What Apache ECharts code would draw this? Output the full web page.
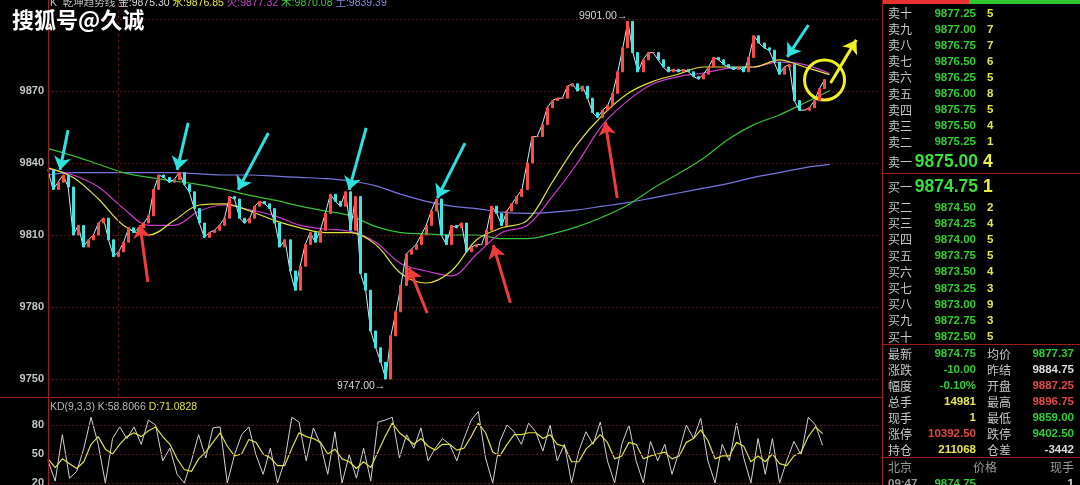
<!DOCTYPE html>
<html><head><meta charset="utf-8">
<script src="https://cdn.jsdelivr.net/npm/echarts@6/dist/echarts.min.js"></script>
<style>html,body{margin:0;padding:0;background:#000;}#c{width:1080px;height:485px;}</style>
</head><body><div id="c"></div>
<script>
// ---------- data ----------
const closes = [
9837,9829,9832,9835,9830,9810,9814,9805,9808,9810,
9815,9817,9808,9801,9803,9807,9813,9811,9813,9815,
9818,9829,9835,9834,9832,9833,9836,9831,9828,9821,
9815,9809,9811,9812,9814,9817,9826,9825,9817,9815,
9817,9822,9824,9823,9821,9815,9805,9808,9795,9787,
9797,9806,9811,9807,9812,9819,9827,9824,9822,9828,
9812,9826,9794,9787,9770,9763,9757,9750,9768,9778,
9789,9802,9804,9806,9810,9814,9820,9825,9810,9806,
9814,9813,9815,9803,9805,9806,9806,9812,9822,9819,
9814,9820,9823,9826,9829,9840,9851,9851,9856,9863,
9866,9867,9867,9872,9873,9870,9872,9867,9861,9859,
9862,9864,9869,9878,9888,9899,9886,9878,9883,9886,
9886,9883,9880,9878,9879,9878,9879,9878,9876,9875,
9877,9880,9884,9883,9881,9880,9879,9880,9878,9884,
9893,9890,9888,9887,9882,9877,9880,9881,9866,9862,
9862,9863,9866,9871,9874.75];
// moving-average style lines (sampled every 5 bars)
const maWater = [9838,9834,9825,9814,9810,9816,9822.5,9823,9820,9816,9813,9811,9811,9806,9794,9790,9795,9808,9813,9816,9832,9848,9860,9869,9874,9877,9880,9880,9880,9883,9880,9876.85];
const maFire  = [9837.5,9835,9830,9821,9814,9814,9820,9822.5,9820.5,9818,9814,9812.5,9811.5,9807,9798,9795,9793,9802,9811,9814,9826,9840,9856,9866,9873,9876,9877.5,9879.5,9880,9882,9881,9877.32];
const maWood  = [9846,9843,9839.5,9836,9834,9832.5,9831,9829,9826.5,9824.5,9822,9820,9818,9813.5,9811,9810.5,9810,9810,9808.5,9808.5,9810.5,9813.5,9817.5,9822.5,9829.5,9835.5,9842,9850,9856,9860,9865,9870.08];
const maEarth = [9835,9836,9836,9836,9836,9836,9835.5,9835,9835,9834.5,9834,9833.5,9832.5,9830.5,9827,9824,9822,9821,9819.5,9819,9819.5,9820.5,9822,9823.5,9825.5,9827.5,9829.5,9831.5,9834,9836,9838,9839.39];
const goldValue = 9875.30;
const kdK = [43,22,70,25,32,56,88,60,20,66, 78,66,78,60,85,80,43,56,29,20, 43,70,46,77,78,20,49,70,78,49,
 29,56,20,43,88,83,43,77,60,29, 73,20,49,25,56,22,83,85,88,46, 70,56,77,43,56,66,60,43,66,85,
 94,46,20,63,80,73,60,82,73,53, 80,43,60,20,53,73,60,83,43,20, 60,80,43,20,63,43,60,29,53,80,
 66,87,43,20,60,43,82,46,20,66, 29,66,20,43,63,49,88,80,58.8066];
const kdD = [45,36,45,40,35,42,60,68,55,50, 60,68,72,68,74,78,68,60,45,34, 32,45,52,62,72,58,48,50,65,62,
 50,46,38,38,56,72,68,66,62,50, 55,45,42,35,42,36,52,68,82,72, 66,60,66,58,54,60,60,54,56,68,
 82,72,52,48,60,70,70,72,72,66, 70,60,58,42,42,55,62,70,62,45, 48,62,60,45,48,50,52,45,48,62,
 66,75,64,45,48,48,62,58,42,48, 42,50,40,38,48,52,68,78,71.0828];
const kdLevels = [20,50,80];
const dayHigh = [115, 9901.00];
const dayLow = [67, 9747.00];
const separatorBar = 14;
// annotation arrows [barFrom, priceFrom, barTo, priceTo]
const cyanArrows = [[3.97,9853.7,2.38,9837.1],[27.8,9856.7,25.6,9837.1],[43.7,9852.5,37.7,9828.8],[63.1,9854.6,59.7,9828.8],[82.7,9848.3,77.2,9825.4],[150.8,9897.5,146.6,9884.2]];
const redArrows = [[19.8,9790.4,18.25,9814.2],[75.2,9777.5,71.6,9796.3],[91.7,9781.7,88.3,9805.8],[112.9,9825.4,110.5,9857.1]];
const yellowArrows = [[155.2,9873.3,160.3,9891.3]];
const yellowCircle = [154, 9874.6];
// order book
const askLabels = ['卖十','卖九','卖八','卖七','卖六','卖五','卖四','卖三','卖二'];
const askPrices = ['9877.25','9877.00','9876.75','9876.50','9876.25','9876.00','9875.75','9875.50','9875.25'];
const askQty = [5,7,7,6,5,8,5,4,1];
const bestAsk = ['卖一','9875.00','4'];
const bestBid = ['买一','9874.75','1'];
const bidLabels = ['买二','买三','买四','买五','买六','买七','买八','买九','买十'];
const bidPrices = ['9874.50','9874.25','9874.00','9873.75','9873.50','9873.25','9873.00','9872.75','9872.50'];
const bidQty = [2,4,5,5,4,3,9,3,5];
const statLabelsL = ['最新','涨跌','幅度','总手','现手','涨停','持仓'];
const statValuesL = ['9874.75','-10.00','-0.10%','14981','1','10392.50','211068'];
const statLabelsR = ['均价','昨结','开盘','最高','最低','跌停','仓差'];
const statValuesR = ['9877.37','9884.75','9887.25','9896.75','9859.00','9402.50','-3442'];
const tickHeader = ['北京','价格','现手'];
const tickRow = ['09:47','9874.75','1'];

// ---------- chart ----------
const mainSlots = 166, maSlots = 34, kdSlots = 117;
const cats = n => Array.from({length:n}, (_, i) => String(i));
const candles = closes.map((c, i) => { const o = i ? closes[i-1] : c; return [o, c, Math.min(o, c), Math.max(o, c)]; });

const NUM = '"Liberation Sans", Arial, sans-serif';
const MIX = '"Liberation Sans", "Noto Sans CJK SC", sans-serif';
const CJK = '"Noto Sans CJK SC", sans-serif';
const GRID = '#5c1212';
const BORDER = '#a01c1c';
const C = {g:'#2fcf2f', y:'#e6e64a', r:'#e04a4a', w:'#dcdcdc', lab:'#c8c8c8'};

function txt(x, y, text, fill, font, align) {
  return {type:'text', x, y, silent:true, z:100,
    style:{text, fill, font, align: align || 'left', textAlign: align || 'left', verticalAlign:'middle', textVerticalAlign:'middle'}};
}
function hline(x1, x2, y, color, w) {
  return {type:'line', silent:true, z:90, shape:{x1, y1:y, x2, y2:y}, style:{stroke:color, lineWidth:w || 1}};
}
function vline(x, y1, y2, color, w) {
  return {type:'line', silent:true, z:90, shape:{x1:x, y1, x2:x, y2}, style:{stroke:color, lineWidth:w || 1}};
}
const last = a => a[a.length - 1];

const g = [];
// borders
g.push(vline(48.5, 0, 485, BORDER));
g.push(hline(0, 883, 397.5, BORDER));
g.push(vline(882.5, 0, 485, BORDER));
// header (rich text)
const hf = '10.5px ' + MIX;
g.push({type:'text', x:50, y:3, silent:true, z:100, style:{
  text:'{k|K}  {t|乾坤趋势线} {a|金:' + goldValue.toFixed(2) + '} {b|水:' + last(maWater).toFixed(2) + '} {c|火:' + last(maFire).toFixed(2) +
       '} {d|木:' + last(maWood).toFixed(2) + '} {e|土:' + last(maEarth).toFixed(2) + '}',
  font: hf, fill:'#c0c0c0', verticalAlign:'middle', textVerticalAlign:'middle',
  rich:{k:{fill:'#c0c0c0', font:hf}, t:{fill:'#bdbdbd', font:hf}, a:{fill:'#dcdcdc', font:hf}, b:{fill:'#e6e63a', font:hf},
        c:{fill:'#d040d0', font:hf}, d:{fill:'#3cc83c', font:hf}, e:{fill:'#8a8ae6', font:hf}}}});
// watermark
g.push({type:'text', x:12, y:20, silent:true, z:110, style:{text:'搜狐号@久诚', fill:'#ffffff', font:'bold 22px ' + CJK, verticalAlign:'middle', textVerticalAlign:'middle', shadowColor:'rgba(0,0,0,0.9)', shadowBlur:3}});
// KD label
const kf = '10.5px ' + NUM;
g.push({type:'text', x:50, y:407, silent:true, z:100, style:{
  text:'{a|KD(9,3,3) K:' + last(kdK).toFixed(4) + '} {b|D:' + last(kdD).toFixed(4) + '}', font:kf, verticalAlign:'middle', textVerticalAlign:'middle',
  rich:{a:{fill:'#b8b8b8', font:kf}, b:{fill:'#e0e040', font:kf}}}});
// order book
g.push({type:'rect', silent:true, z:90, shape:{x:883, y:0, width:86, height:4}, style:{fill:'#e83030'}});
g.push({type:'rect', silent:true, z:90, shape:{x:969, y:0, width:111, height:4}, style:{fill:'#2ec82e'}});
const labFont = '12px ' + CJK, numFont = 'bold 11.5px ' + NUM;
askLabels.forEach((l, i) => {
  const y = 13.5 + i * 16.1;
  g.push(txt(888, y, l, C.lab, labFont));
  g.push(txt(976, y, askPrices[i], C.g, numFont, 'right'));
  g.push(txt(987, y, String(askQty[i]), C.y, numFont));
});
g.push(txt(888, 162, bestAsk[0], C.lab, labFont));
g.push(txt(978, 162, bestAsk[1], '#39e039', 'bold 17.5px ' + NUM, 'right'));
g.push(txt(983, 162, bestAsk[2], '#f0f040', 'bold 17.5px ' + NUM));
g.push(hline(883, 1080, 173.5, BORDER));
g.push(txt(888, 187, bestBid[0], C.lab, labFont));
g.push(txt(978, 187, bestBid[1], '#39e039', 'bold 17.5px ' + NUM, 'right'));
g.push(txt(983, 187, bestBid[2], '#f0f040', 'bold 17.5px ' + NUM));
bidLabels.forEach((l, i) => {
  const y = 207.5 + i * 16.2;
  g.push(txt(888, y, l, C.lab, labFont));
  g.push(txt(976, y, bidPrices[i], C.g, numFont, 'right'));
  g.push(txt(987, y, String(bidQty[i]), C.y, numFont));
});
g.push(hline(883, 1080, 344.5, BORDER));
const colL = [C.g, C.g, C.g, C.y, C.y, C.r, C.y];
const colR = [C.g, C.w, C.r, C.r, C.g, C.g, C.w];
statLabelsL.forEach((l, i) => {
  const y = 354 + i * 16;
  g.push(txt(888, y, l, C.lab, labFont));
  g.push(txt(976, y, statValuesL[i], colL[i], numFont, 'right'));
  g.push(txt(987, y, statLabelsR[i], C.lab, labFont));
  g.push(txt(1074, y, statValuesR[i], colR[i], numFont, 'right'));
});
g.push(hline(883, 1080, 457.5, BORDER));
g.push(txt(888, 467, tickHeader[0], '#9a9a9a', labFont));
g.push(txt(985, 467, tickHeader[1], '#9a9a9a', labFont, 'center'));
g.push(txt(1074, 467, tickHeader[2], '#9a9a9a', labFont, 'right'));
g.push(txt(888, 484, tickRow[0], '#9a9a9a', numFont));
g.push(txt(976, 484, tickRow[1], C.g, numFont, 'right'));
g.push(txt(1074, 484, tickRow[2], C.w, numFont, 'right'));

const arrows = (arr, color) => arr.map(a => [{coord:[a[0], a[1]], lineStyle:{color, width:3, type:'solid'}, itemStyle:{color}}, {coord:[a[2], a[3]], itemStyle:{color}}]);

const maLine = (data, color) => ({type:'line', xAxisIndex:1, yAxisIndex:0, data, showSymbol:false, smooth:0.35, silent:true,
  lineStyle:{color, width:1.2}, z:3});

const option = {
  backgroundColor:'#000',
  animation:false,
  grid:[
    {left:48, right:200, top:0, height:451},
    {left:48, right:200, top:396, height:89}
  ],
  xAxis:[
    {type:'category', gridIndex:0, data:cats(mainSlots), boundaryGap:false, show:false},
    {type:'category', gridIndex:0, data:cats(maSlots), boundaryGap:false, show:false},
    {type:'category', gridIndex:1, data:cats(kdSlots), boundaryGap:false, show:false},
    {type:'value', gridIndex:0, min:0, max:mainSlots - 1, show:false}
  ],
  yAxis:[
    {type:'value', gridIndex:0, min:9720, max:9907.92, interval:30, position:'left',
      axisLine:{show:false}, axisTick:{show:false},
      axisLabel:{color:'#c4c4c4', fontWeight:'bold', fontSize:11, fontFamily:NUM, margin:4, showMinLabel:false, showMaxLabel:false,
        formatter: v => (v >= 9750 && v <= 9870) ? String(v) : ''},
      splitLine:{show:true, showMinLine:false, showMaxLine:false, lineStyle:{color:GRID, type:[2,2], width:1}}},
    {type:'value', gridIndex:1, min:17.93, max:110, show:true,
      axisLine:{show:false}, axisTick:{show:false}, axisLabel:{show:false}, splitLine:{show:false}}
  ],
  graphic:{elements:g},
  series:[
    maLine(maEarth, '#7676de'),
    maLine(maWood, '#38c038'),
    maLine(maFire, '#cc3ccc'),
    maLine(maWater, '#e2e23a'),
    {type:'line', xAxisIndex:0, yAxisIndex:0, data:closes, showSymbol:false, silent:true, z:4,
      lineStyle:{color:'#bff4f4', width:1}},
    {type:'candlestick', xAxisIndex:0, yAxisIndex:0, data:candles, barWidth:2.5, silent:true, z:5,
      itemStyle:{color:'#ff4a4a', color0:'#3ee6e6', borderColor:'#ff4a4a', borderColor0:'#3ee6e6', borderWidth:1}},
    {type:'line', xAxisIndex:3, yAxisIndex:0, data:[], silent:true, z:6,
      markLine:{silent:true, symbol:['none','arrow'], symbolSize:13, label:{show:false}, animation:false,
        data:[
          ...arrows(cyanArrows, '#2ee0e0'),
          ...arrows(redArrows, '#f03c3c'),
          ...arrows(yellowArrows, '#f0f020'),
          [{coord:[separatorBar, 9742.6], symbol:'none', lineStyle:{color:GRID, width:1, type:[3,3]}}, {coord:[separatorBar, 9907], symbol:'none'}]
        ]},
      markPoint:{silent:true, animation:false,
        data:[
          {coord:yellowCircle, symbol:'circle', symbolSize:40, itemStyle:{color:'rgba(0,0,0,0)', borderColor:'#f0f020', borderWidth:3}, label:{show:false}},
          {coord:dayHigh, symbol:'circle', symbolSize:1, itemStyle:{color:'rgba(0,0,0,0)'},
            label:{show:true, position:'left', distance:0, formatter: dayHigh[1].toFixed(2) + '→', color:'#d8d8d8', fontSize:10.5, fontFamily:NUM}},
          {coord:dayLow, symbol:'circle', symbolSize:1, itemStyle:{color:'rgba(0,0,0,0)'},
            label:{show:true, position:'left', distance:0, formatter: dayLow[1].toFixed(2) + '→', color:'#d8d8d8', fontSize:10.5, fontFamily:NUM}}
        ]}
    },
    {type:'line', xAxisIndex:2, yAxisIndex:1, data:kdK, showSymbol:false, silent:true, lineStyle:{color:'#d4d4d4', width:1}, z:3,
      markLine:{silent:true, symbol:'none', animation:false,
        lineStyle:{color:GRID, type:[2,2], width:1},
        label:{show:true, position:'start', distance:4, color:'#c4c4c4', fontWeight:'bold', fontSize:11, fontFamily:NUM, formatter:'{c}'},
        data: kdLevels.map(v => ({yAxis:v}))}},
    {type:'line', xAxisIndex:2, yAxisIndex:1, data:kdD, showSymbol:false, silent:true, lineStyle:{color:'#e0e040', width:1.2}, z:4}
  ]
};
const chart = echarts.init(document.getElementById('c'), null, {renderer:'canvas'});
chart.setOption(option);
</script></body></html>
